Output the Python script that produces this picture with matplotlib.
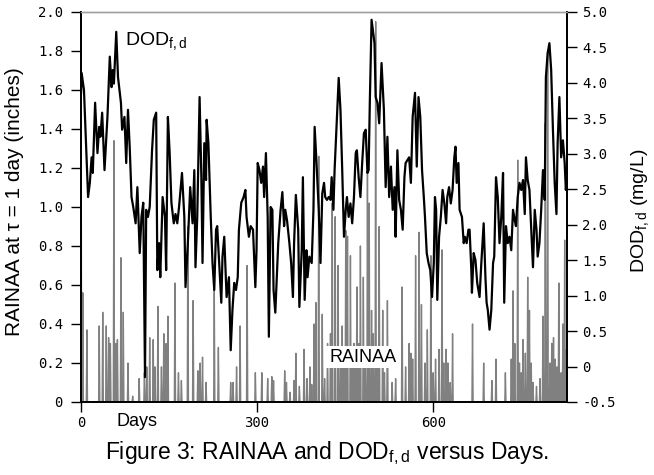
import numpy as np
import matplotlib
matplotlib.use("Agg")
import matplotlib.pyplot as plt

plt.rcParams['font.family'] = ['Liberation Sans', 'DejaVu Sans']
plt.rcParams['mathtext.default'] = 'regular'

# DOD_f,d (mg/L)
dod_days = [0, 1, 5, 12, 15, 18, 20, 24, 28, 31, 33, 36, 40, 45, 49, 52, 54, 56, 60, 63,
            68, 70, 74, 77, 80, 83, 86, 89, 93, 96, 100, 103, 106, 109, 111, 114, 117, 121, 124, 128,
            130, 133, 135, 139, 143, 145, 148, 151, 154, 158, 161, 164, 167, 172, 176, 178, 182, 186, 190, 193,
            195, 198, 202, 205, 207, 210, 213, 214, 217, 221, 224, 227, 230, 232, 236, 239, 241, 244, 248, 252,
            255, 258, 261, 264, 267, 269, 273, 277, 280, 282, 286, 289, 293, 297, 299, 301, 304, 307, 310, 312,
            315, 318, 320, 323, 326, 328, 331, 336, 340, 343, 346, 348, 351, 355, 358, 361, 363, 366, 370, 372,
            376, 378, 381, 384, 386, 389, 393, 396, 398, 401, 405, 408, 411, 414, 416, 419, 422, 425, 427, 430,
            432, 435, 439, 442, 445, 448, 451, 453, 456, 459, 462, 465, 468, 470, 473, 476, 479, 482, 485, 488,
            490, 492, 495, 500, 502, 505, 508, 512, 516, 519, 522, 525, 528, 531, 534, 536, 539, 542, 545, 548,
            551, 553, 556, 559, 562, 565, 569, 572, 575, 578, 581, 584, 586, 589, 592, 595, 598, 601, 603, 605,
            607, 610, 613, 616, 619, 622, 624, 627, 630, 633, 636, 638, 640, 643, 645, 649, 652, 654, 657, 660,
            662, 665, 666, 669, 672, 675, 679, 682, 686, 689, 691, 693, 696, 699, 702, 704, 707, 710, 713, 716,
            719, 721, 724, 727, 730, 733, 736, 739, 741, 744, 747, 750, 753, 756, 758, 761, 764, 767, 770, 773,
            776, 778, 781, 784, 787, 790, 792, 795, 798, 801, 804, 807, 810, 812, 815, 818, 821, 824, 826, 828]
dod_vals = [3.86, 4.14, 3.90, 2.39, 2.59, 2.95, 2.73, 3.72, 3.01, 3.38, 3.24, 3.58, 2.77, 3.52, 4.37, 3.94, 4.18, 3.99, 4.72, 4.08,
            3.72, 3.34, 3.52, 2.87, 3.62, 3.08, 2.39, 2.25, 2.02, 2.53, 1.60, 2.11, 2.31, -0.15, 2.21, 2.11, 2.25, 3.05, 3.48, 3.58,
            1.36, 1.74, 1.26, 2.39, 2.11, 1.36, 3.52, 3.01, 2.31, 2.02, 2.15, 2.02, 2.25, 2.73, 2.11, 1.12, 1.74, 2.53, 2.02, 2.77,
            1.40, 2.11, 3.80, 2.67, 1.46, 3.15, 2.63, 3.48, 3.15, 2.11, 1.46, 1.08, 1.93, 1.98, 1.36, 0.90, 1.55, 1.83, 0.98, 1.26,
            0.23, 0.80, 1.18, 1.08, 1.26, 1.93, 2.31, 2.39, 2.49, 2.11, 1.83, 1.98, 1.93, 1.12, 1.64, 2.87, 2.77, 2.59, 2.82, 2.39,
            3.01, 2.11, 0.42, 2.25, 2.21, 1.08, 0.76, 1.74, 2.21, 2.46, 1.98, 2.21, 2.06, 1.74, 1.46, 0.98, 1.74, 2.42, 1.93, 0.84,
            1.64, 2.67, 0.94, 1.64, 1.26, 1.55, 1.46, 2.21, 3.38, 2.91, 2.21, 1.46, 2.44, 2.59, 2.39, 2.35, 2.39, 2.35, 2.67, 2.21,
            2.77, 3.34, 4.07, 3.62, 2.77, 1.83, 2.21, 2.39, 2.11, 2.30, 2.02, 2.39, 3.01, 3.05, 2.67, 2.39, 2.87, 3.29, 3.34, 2.73,
            2.77, 3.72, 4.89, 4.56, 3.80, 3.72, 3.43, 4.28, 3.62, 2.53, 3.24, 2.39, 2.82, 2.21, 2.53, 1.83, 3.05, 2.35, 2.21, 1.93,
            2.67, 2.87, 2.91, 2.95, 2.59, 3.52, 3.86, 2.82, 3.80, 3.52, 2.77, 2.39, 2.11, 1.60, 1.46, 1.36, 0.98, 1.46, 2.39, 2.21,
            0.94, 1.83, 2.11, 2.49, 2.30, 2.02, 2.39, 2.53, 2.30, 2.49, 2.95, 3.10, 2.59, 2.87, 2.21, 2.11, 1.74, 1.83, 1.74, 1.93,
            1.93, 1.36, 1.04, 1.60, 1.50, 1.18, 0.98, 1.46, 2.02, 1.26, 0.90, 0.80, 0.52, 0.80, 1.46, 1.55, 2.67, 2.39, 1.74, 2.11,
            2.73, 0.90, 1.98, 1.74, 1.83, 1.64, 2.21, 2.06, 1.98, 2.39, 2.59, 2.49, 2.63, 2.15, 2.95, 2.63, 2.49, 1.93, 1.40, 2.21,
            1.93, 1.55, 1.74, 2.21, 2.77, 2.35, 4.08, 4.42, 4.56, 4.18, 3.34, 2.59, 2.15, 3.15, 3.80, 2.95, 3.19, 2.87, 2.49, 2.67]

# RAINAA (inches): rainy days, all other days are 0
rain_days = [0, 3, 10, 31, 37, 43, 47, 50, 56, 59, 62, 68, 72, 80, 88, 99, 108, 112, 117, 123,
             126, 131, 137, 141, 145, 148, 160, 166, 171, 182, 191, 199, 203, 207, 213, 227, 234, 255, 259, 265,
             271, 283, 297, 308, 318, 325, 328, 347, 350, 356, 363, 366, 372, 380, 385, 390, 393, 397, 400, 405,
             411, 415, 420, 425, 428, 433, 438, 442, 445, 448, 451, 454, 459, 462, 465, 468, 470, 473, 476, 481,
             484, 488, 491, 495, 498, 502, 505, 508, 514, 517, 522, 530, 536, 547, 553, 559, 562, 565, 570, 576,
             580, 586, 590, 596, 600, 604, 610, 615, 618, 622, 625, 629, 633, 667, 686, 700, 707, 723, 733, 736,
             739, 744, 747, 750, 753, 757, 761, 764, 767, 770, 776, 782, 787, 791, 795, 799, 802, 805, 808, 811,
             814, 818, 821, 824, 827]
rain_vals = [1.91, 0.56, 0.37, 0.39, 0.46, 0.39, 0.33, 0.30, 1.34, 0.30, 0.32, 0.74, 0.46, 0.20, 0.03, 0.12, 0.15, 0.18, 0.33, 0.32,
             0.18, 0.49, 0.18, 0.35, 0.30, 0.44, 0.61, 0.15, 0.11, 0.90, 0.52, 0.16, 0.20, 0.23, 0.10, 0.58, 0.28, 0.10, 0.10, 0.18,
             0.39, 0.70, 0.15, 0.15, 0.12, 0.13, 0.11, 0.16, 0.10, 0.05, 0.11, 0.25, 0.08, 0.27, 0.12, 0.18, 0.09, 0.40, 0.51, 1.26,
             0.45, 0.12, 0.30, 0.35, 1.02, 0.95, 0.70, 0.28, 0.39, 0.20, 0.88, 0.85, 0.75, 0.18, 0.30, 0.25, 0.59, 0.30, 0.80, 0.64,
             0.22, 1.19, 1.02, 0.47, 0.35, 1.95, 0.20, 0.90, 0.47, 0.15, 0.52, 0.10, 0.12, 0.59, 0.18, 0.30, 0.25, 0.22, 0.75, 0.87,
             0.50, 0.20, 0.37, 0.75, 0.15, 0.22, 0.27, 0.78, 0.20, 0.27, 0.20, 0.10, 0.35, 0.40, 0.20, 0.11, 0.22, 0.15, 0.22, 0.57,
             0.30, 1.24, 0.20, 0.15, 0.32, 0.25, 0.64, 0.47, 0.20, 0.10, 0.08, 0.12, 0.44, 1.43, 1.80, 0.20, 0.30, 0.33, 0.22, 0.18,
             0.61, 0.15, 0.40, 0.83, 0.27]

days = np.arange(0, 829)
rain = np.zeros(len(days))
rain[rain_days] = rain_vals

fig = plt.figure(figsize=(6.54, 4.75), dpi=100)
ax = fig.add_axes([0.1239, 0.1537, 0.7431, 0.8211])
ax2 = ax.twinx()

ax.plot(days, rain, color='#808080', lw=1.0)
ax2.plot(dod_days, dod_vals, color='black', lw=1.6)

ax.set_xlim(0, 828)
ax.set_ylim(0, 2.0)
ax2.set_ylim(-0.5, 5.0)

mono = 'DejaVu Sans Mono'
left_ticks = np.arange(0, 2.01, 0.2)
ax.set_yticks(left_ticks)
ax.set_yticklabels(['0' if t == 0 else f'{t:.1f}' for t in left_ticks], family=mono, fontsize=10)
right_ticks = np.arange(-0.5, 5.01, 0.5)
ax2.set_yticks(right_ticks)
ax2.set_yticklabels(['0' if abs(t) < 1e-9 else f'{t:.1f}' for t in right_ticks], family=mono, fontsize=10)
ax.set_xticks([0, 300, 600])
ax.set_xticklabels(['0', '300', '600'], family=mono, fontsize=10)

ax.tick_params(axis='y', direction='out', length=7, width=1, pad=6)
ax.tick_params(axis='x', direction='out', length=7, width=1, pad=3)
ax2.tick_params(axis='y', direction='out', length=7, width=1, pad=4)

for a in (ax, ax2):
    a.spines['top'].set_color('#a0a0a0')
    a.spines['top'].set_linewidth(1.0)
    for s in ('left', 'right', 'bottom'):
        a.spines[s].set_linewidth(1.3)

ax.set_ylabel('RAINAA at τ = 1 day (inches)', fontsize=15)
ax.yaxis.set_label_coords(-0.117, 0.515)
ax2.set_ylabel('DOD$_{f,d}$ (mg/L)', fontsize=14)
ax2.yaxis.set_label_coords(1.128, 0.49)

ax.text(75, 1.85, 'DOD$_{f,d}$', fontsize=14, va='center', ha='left')
ax.text(480, 0.23, 'RAINAA', fontsize=13, va='center', ha='center',
        bbox=dict(facecolor='white', edgecolor='none', pad=2))

fig.text(0.2095, 0.1116, 'Days', fontsize=13, ha='center', va='center')
fig.text(0.5, 0.046, 'Figure 3: RAINAA and DOD$_{f,d}$ versus Days.',
         family=['Liberation Sans Narrow', 'Liberation Sans'], fontsize=16.5, ha='center', va='center')

fig.savefig('out.png', dpi=100)
